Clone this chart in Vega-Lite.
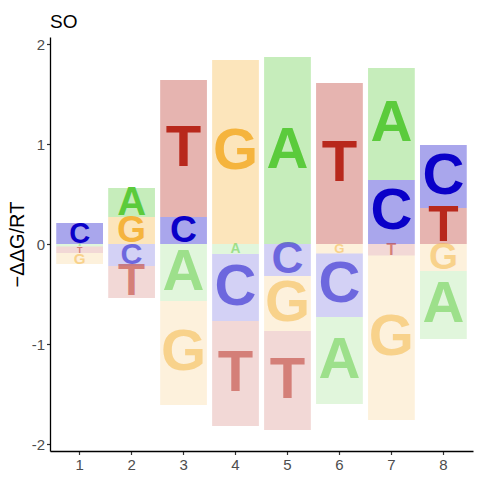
{
  "$schema": "https://vega.github.io/schema/vega-lite/v6.json",
  "width": 423,
  "height": 414,
  "autosize": {"type": "none"},
  "padding": {"left": 50, "top": 37, "right": 7, "bottom": 29},
  "title": {"text": "SO", "anchor": "start", "frame": "group", "fontSize": 19, "fontWeight": "normal", "font": "Liberation Sans", "color": "black", "baseline": "alphabetic", "offset": 10, "dy": 20},
  "data": {
    "values": [
      {"pos": 1, "letter": "C", "h": 0.21},
      {"pos": 1, "letter": "A", "h": -0.025},
      {"pos": 1, "letter": "T", "h": -0.065},
      {"pos": 1, "letter": "G", "h": -0.11},
      {"pos": 2, "letter": "G", "h": 0.27},
      {"pos": 2, "letter": "A", "h": 0.29},
      {"pos": 2, "letter": "C", "h": -0.22},
      {"pos": 2, "letter": "T", "h": -0.32},
      {"pos": 3, "letter": "C", "h": 0.27},
      {"pos": 3, "letter": "T", "h": 1.37},
      {"pos": 3, "letter": "A", "h": -0.57},
      {"pos": 3, "letter": "G", "h": -1.04},
      {"pos": 4, "letter": "G", "h": 1.84},
      {"pos": 4, "letter": "A", "h": -0.1},
      {"pos": 4, "letter": "C", "h": -0.67},
      {"pos": 4, "letter": "T", "h": -1.05},
      {"pos": 5, "letter": "A", "h": 1.87},
      {"pos": 5, "letter": "C", "h": -0.32},
      {"pos": 5, "letter": "G", "h": -0.55},
      {"pos": 5, "letter": "T", "h": -0.99},
      {"pos": 6, "letter": "T", "h": 1.61},
      {"pos": 6, "letter": "G", "h": -0.095},
      {"pos": 6, "letter": "C", "h": -0.635},
      {"pos": 6, "letter": "A", "h": -0.87},
      {"pos": 7, "letter": "C", "h": 0.64},
      {"pos": 7, "letter": "A", "h": 1.12},
      {"pos": 7, "letter": "T", "h": -0.115},
      {"pos": 7, "letter": "G", "h": -1.645},
      {"pos": 8, "letter": "T", "h": 0.36},
      {"pos": 8, "letter": "C", "h": 0.63},
      {"pos": 8, "letter": "G", "h": -0.27},
      {"pos": 8, "letter": "A", "h": -0.68}
    ]
  },
  "encoding": {
    "x": {
      "field": "pos",
      "type": "ordinal",
      "scale": {"paddingInner": 0, "paddingOuter": 0.07},
      "axis": {"title": null, "labelAngle": 0}
    },
    "color": {
      "field": "letter",
      "type": "nominal",
      "scale": {"domain": ["A", "C", "G", "T"], "range": ["#5BCB3C", "#0A00C8", "#F5B43D", "#B8281C"]},
      "legend": null
    }
  },
  "layer": [
    {
      "transform": [{"filter": "datum.h > 0"}],
      "mark": {"type": "bar", "width": {"band": 0.9}, "opacity": 0.35},
      "encoding": {
        "y": {
          "field": "h",
          "type": "quantitative",
          "stack": "zero",
          "scale": {"domain": [-2.07, 2.07], "nice": false, "zero": false},
          "axis": {"title": "−ΔΔG/RT", "values": [-2, -1, 0, 1, 2], "labelExpr": "datum.value", "grid": false}
        },
        "order": {"field": "h", "type": "quantitative", "sort": "ascending"}
      }
    },
    {
      "transform": [{"filter": "datum.h < 0"}],
      "mark": {"type": "bar", "width": {"band": 0.9}, "opacity": 0.18},
      "encoding": {
        "y": {"field": "h", "type": "quantitative", "stack": "zero"},
        "order": {"field": "h", "type": "quantitative", "sort": "descending"}
      }
    },
    {
      "transform": [{"filter": "datum.h > 0"}],
      "mark": {"type": "text", "font": "Liberation Sans", "fontWeight": "bold", "baseline": "middle", "align": "center"},
      "encoding": {
        "y": {"field": "h", "type": "quantitative", "stack": "zero", "bandPosition": 0.5},
        "order": {"field": "h", "type": "quantitative", "sort": "ascending"},
        "text": {"field": "letter"},
        "size": {
          "field": "h",
          "type": "quantitative",
          "scale": {"domain": [-0.42, 0, 0.42], "range": [58, 0, 58], "clamp": true},
          "legend": null
        }
      }
    },
    {
      "transform": [{"filter": "datum.h < 0"}],
      "mark": {"type": "text", "font": "Liberation Sans", "fontWeight": "bold", "baseline": "middle", "align": "center", "opacity": 0.5},
      "encoding": {
        "y": {"field": "h", "type": "quantitative", "stack": "zero", "bandPosition": 0.5},
        "order": {"field": "h", "type": "quantitative", "sort": "descending"},
        "text": {"field": "letter"},
        "size": {"field": "h", "type": "quantitative", "legend": null}
      }
    },
    {
      "mark": {"type": "rule", "color": "black", "strokeWidth": 1},
      "encoding": {"y": {"datum": 0}, "color": {"value": "black"}}
    }
  ],
  "config": {
    "view": {"stroke": null},
    "font": "Liberation Sans",
    "axis": {
      "domainColor": "black",
      "domainWidth": 1.3,
      "tickColor": "#333333",
      "tickSize": 3.5,
      "tickWidth": 1.2,
      "labelColor": "#4D4D4D",
      "labelFontSize": 15,
      "labelFont": "Liberation Sans",
      "titleFont": "Liberation Sans",
      "titleFontSize": 20,
      "titleFontWeight": "normal",
      "titleColor": "black"
    },
    "axisX": {"labelPadding": 3},
    "axisY": {"labelPadding": 2, "titlePadding": 4}
  }
}
